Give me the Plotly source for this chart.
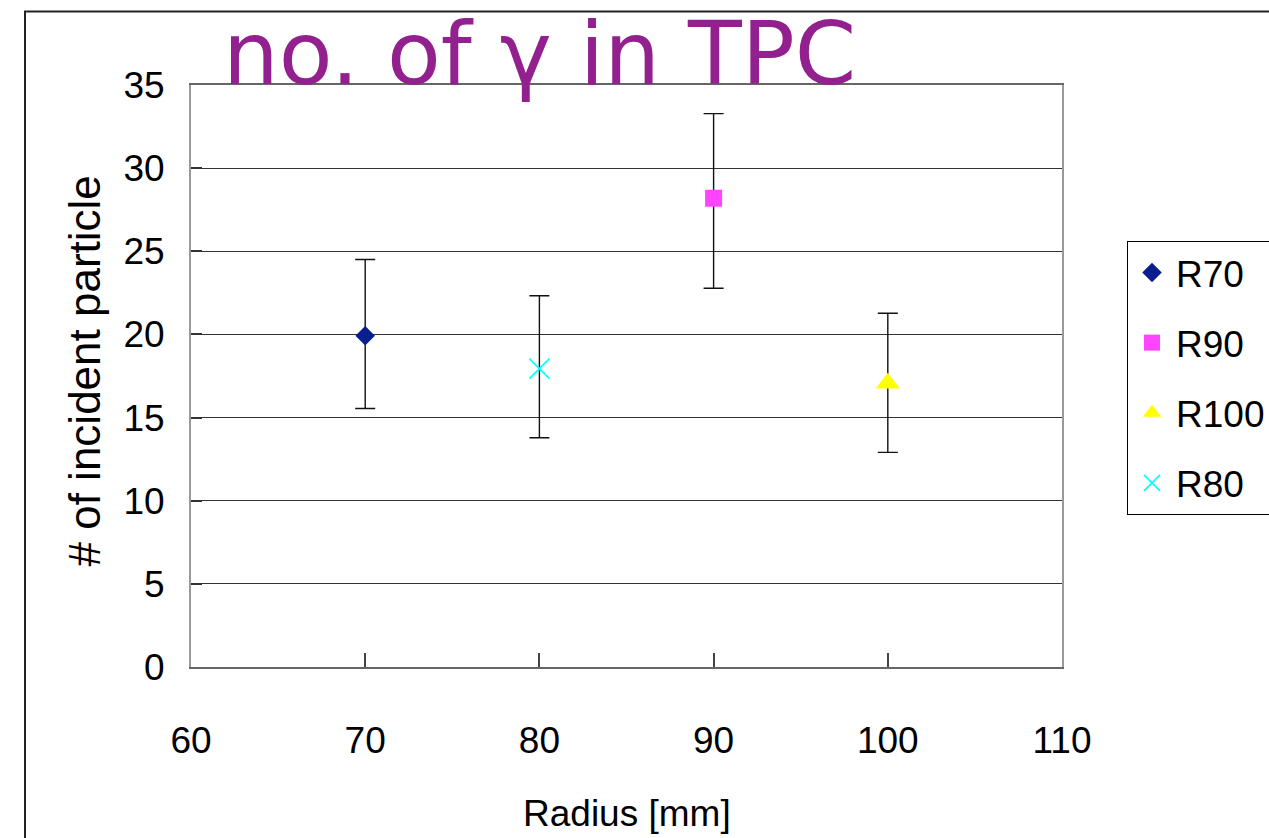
import plotly.graph_objects as go

# ---- data ----
series_names = ["R70", "R90", "R100", "R80"]
radius_mm = [70, 90, 100, 80]
n_particles = [19.92, 28.19, 17.06, 17.94]
err_plus = [4.59, 5.09, 4.21, 4.39]
err_minus = [4.37, 5.41, 4.15, 4.15]

x_tick_vals = [60, 70, 80, 90, 100, 110]
y_tick_vals = [0, 5, 10, 15, 20, 25, 30, 35]

marker_symbols = ["diamond", "square", "triangle-up", "x-thin-open"]
marker_colors = ["#0A1F8F", "#FF44FF", "#FFFF00", "#00FFFF"]
marker_sizes = [15, 17, 21, 20]

SANS = "Liberation Sans, Arial, sans-serif"
FS = 37

fig = go.Figure()
for name, x, y, ep, em, sym, col, sz in zip(series_names, radius_mm, n_particles, err_plus,
                                            err_minus, marker_symbols, marker_colors, marker_sizes):
    marker = dict(symbol=sym, color=col, size=sz)
    if sym == "x-thin-open":
        marker["line"] = dict(color=col, width=1.6)
    else:
        marker["line"] = dict(width=0)
    fig.add_trace(go.Scatter(
        x=[x], y=[y], mode="markers", name=name, legendgroup=name,
        marker=marker,
        error_y=dict(type="data", symmetric=False, array=[ep], arrayminus=[em],
                     color="#111111", thickness=1.4, width=10),
    ))

W, H = 1269, 838
L, T, R, B = 191, 85, 207, 171
pw, ph = W - L - R, H - T - B

def px2paper(px, py):
    return (px - L) / pw, (H - B - py) / ph

fig.update_layout(
    width=W, height=H,
    margin=dict(l=L, r=R, t=T, b=B, pad=0, autoexpand=False),
    paper_bgcolor="white", plot_bgcolor="white",
    font=dict(family=SANS, size=FS, color="black"),
    showlegend=True,
    legend=dict(
        x=px2paper(1127, 0)[0], y=px2paper(0, 241)[1],
        xanchor="left", yanchor="top",
        bordercolor="black", borderwidth=1, bgcolor="white",
        font=dict(family=SANS, size=FS, color="black"),
        tracegroupgap=19, itemwidth=38,
    ),
    xaxis=dict(
        range=[60, 110], tickvals=x_tick_vals, ticktext=[str(v) for v in x_tick_vals],
        ticks="inside", ticklen=14, tickwidth=1.5, tickcolor="#444",
        showline=True, linecolor="#666", linewidth=2, mirror=True,
        showgrid=False, zeroline=False,
        ticklabelstandoff=40,
        tickfont=dict(family=SANS, size=FS, color="black"),
    ),
    yaxis=dict(
        range=[0, 35], tickvals=y_tick_vals, ticktext=[str(v) for v in y_tick_vals],
        ticks="inside", ticklen=11, tickwidth=1.5, tickcolor="#333",
        showline=True, linecolor="#999", linewidth=2, mirror=True,
        showgrid=True, gridcolor="#333", gridwidth=1.2, zeroline=False,
        ticklabelstandoff=17,
        tickfont=dict(family=SANS, size=FS, color="black"),
    ),
)

# outer chart frame
fx0, fy1 = px2paper(25, 11.5)
fig.add_shape(type="rect", xref="paper", yref="paper", x0=fx0, x1=2.0, y0=-2.0, y1=fy1,
              line=dict(color="#222", width=2), layer="below")

# title
tx, ty = px2paper(539.5, 54)
fig.add_annotation(text="no. of γ in TPC", xref="paper", yref="paper", x=tx, y=ty,
                   xanchor="center", yanchor="middle", showarrow=False,
                   font=dict(family="DejaVu Sans", size=88, color="#93208F"))

# axis titles
ax_x, ax_y = px2paper(626.5, 813)
fig.add_annotation(text="Radius [mm]", xref="paper", yref="paper", x=ax_x, y=ax_y,
                   xanchor="center", yanchor="middle", showarrow=False,
                   font=dict(family=SANS, size=FS, color="black"))
ay_x, ay_y = px2paper(84, 371.5)
fig.add_annotation(text="# of incident particle", xref="paper", yref="paper", x=ay_x, y=ay_y,
                   xanchor="center", yanchor="middle", showarrow=False, textangle=-90,
                   font=dict(family=SANS, size=44, color="black"))

fig.write_html("out.html")
